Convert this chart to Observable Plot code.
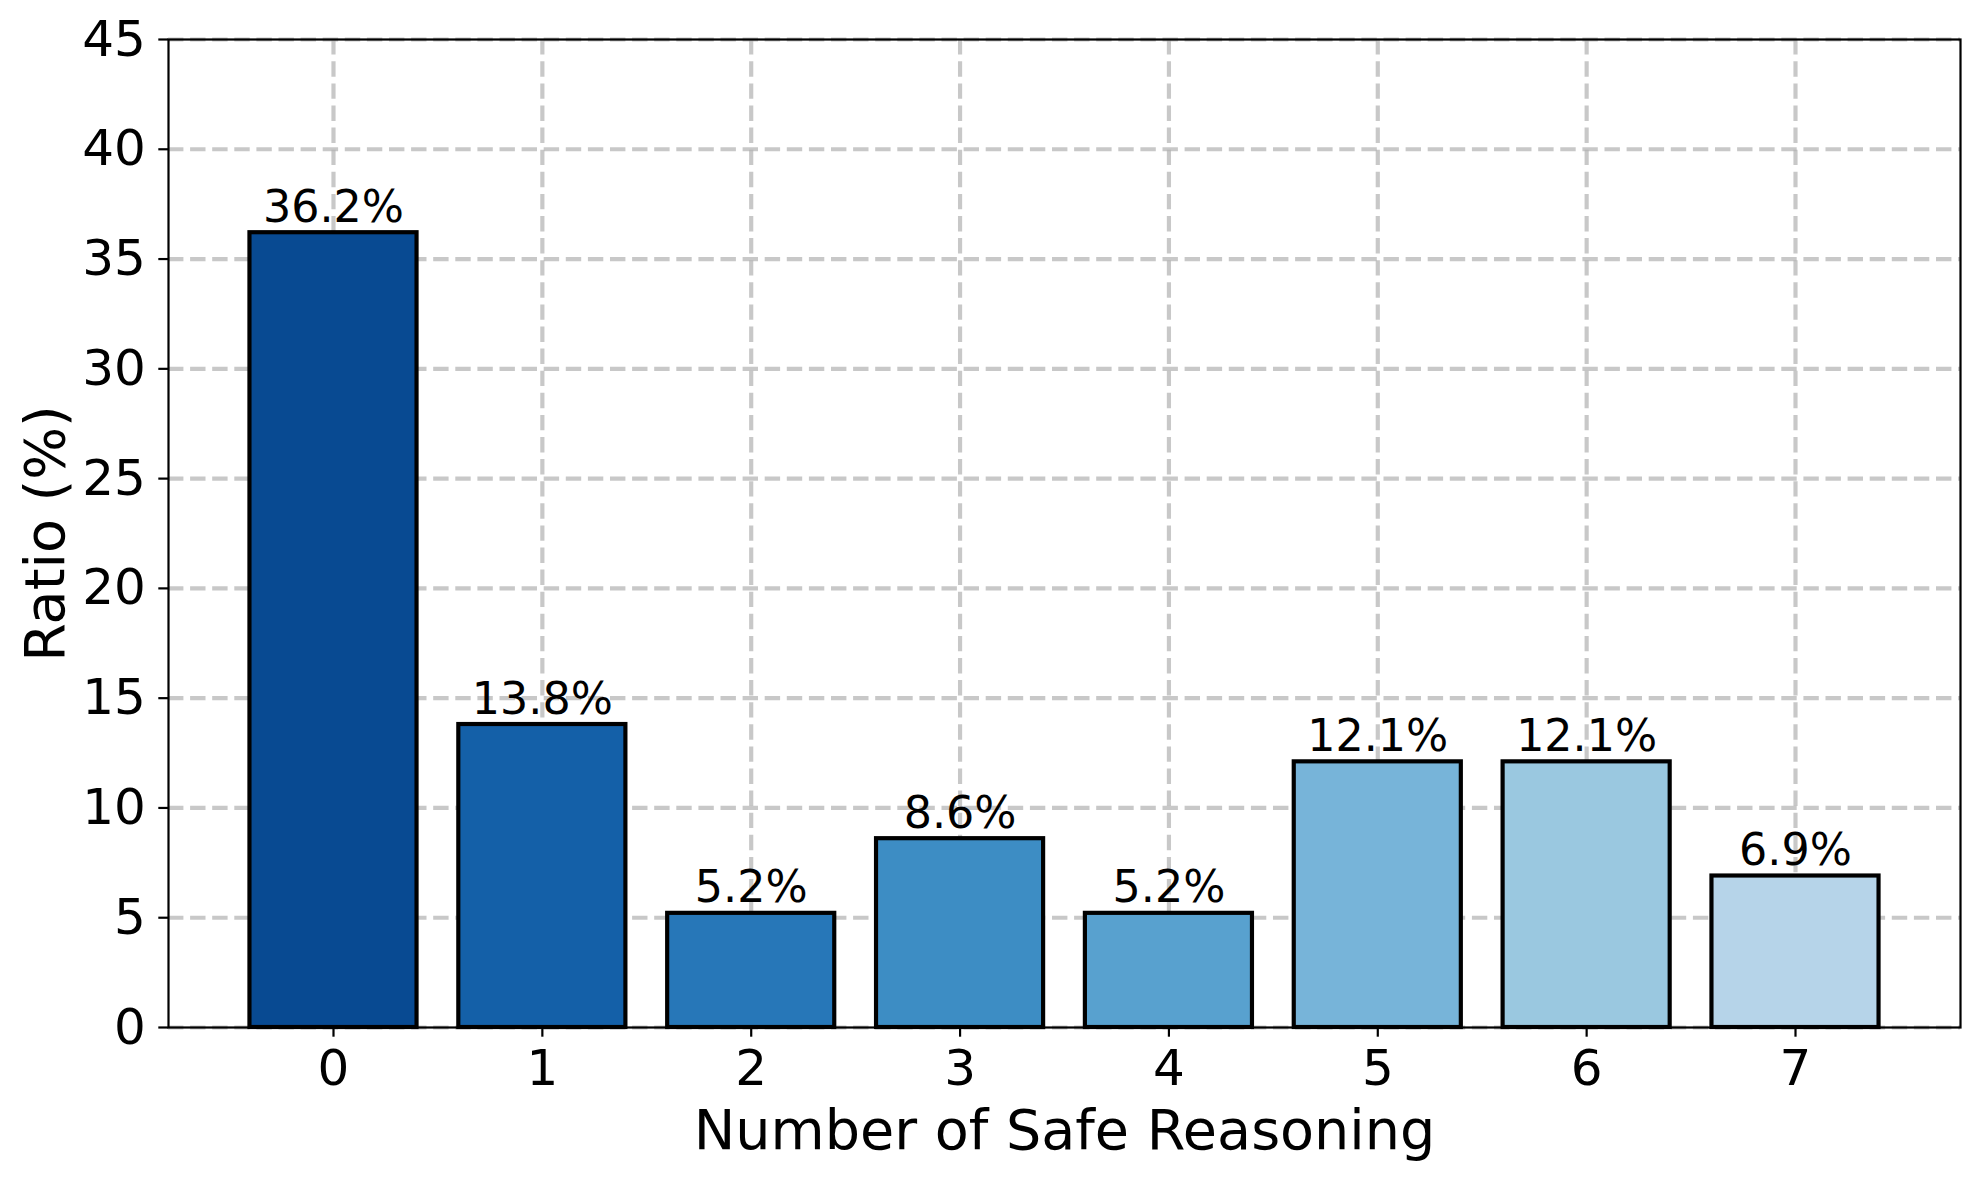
<!DOCTYPE html>
<html>
<head>
<meta charset="utf-8">
<script src="https://cdn.jsdelivr.net/npm/d3@7"></script>
<script src="https://cdn.jsdelivr.net/npm/@observablehq/plot@0.6"></script>
<style>
  html, body { margin: 0; padding: 0; background: white; }
</style>
</head>
<body>
<div id="chart"></div>
<script>
const categories = ["0", "1", "2", "3", "4", "5", "6", "7"];
const values = [36.2, 13.8, 5.2, 8.6, 5.2, 12.1, 12.1, 6.9];
const barColors = ["#084a92", "#1460a8", "#2777b8", "#3d8dc4", "#58a1cf", "#77b4d9", "#9ac8e0", "#b6d4e9"];
const yTicks = [0, 5, 10, 15, 20, 25, 30, 35, 40, 45];
const yDomain = [0, 45];
const xTitle = "Number of Safe Reasoning";
const yTitle = "Ratio (%)";

const data = categories.map((c, i) => ({k: c, v: values[i], color: barColors[i]}));

const gridStyle = {stroke: "#b0b0b0", strokeOpacity: 0.7, strokeWidth: 4.17, strokeDasharray: "15.4,6.7"};

const chart = Plot.plot({
  width: 1979,
  height: 1180,
  marginLeft: 168,
  marginRight: 19,
  marginTop: 39,
  marginBottom: 153,
  style: {fontFamily: "DejaVu Sans", background: "white", color: "black"},
  x: {type: "band", domain: categories, paddingInner: 0.2, paddingOuter: 0.39, align: 0.5, round: false},
  y: {domain: yDomain},
  color: {type: "identity"},
  marks: [
    Plot.ruleY(yTicks, {y: d => d, ...gridStyle}),
    Plot.ruleX(categories, {x: d => d, y1: yDomain[0], y2: yDomain[1], ...gridStyle}),
    Plot.barY(data, {x: "k", y: "v", fill: "color", stroke: "black", strokeWidth: 4.17}),
    Plot.text(data, {x: "k", y: "v", text: d => d.v.toFixed(1) + "%", dy: -11, lineAnchor: "bottom", fontSize: 44.4, fill: "black"}),
    Plot.frame({stroke: "black", strokeWidth: 2.2}),
    Plot.axisX({tickSize: 9.7, tickPadding: 12, fontSize: 50, strokeWidth: 2.2, label: null}),
    Plot.axisY({ticks: yTicks, tickSize: 9.7, tickPadding: 13, fontSize: 50, strokeWidth: 2.2, label: null, tickFormat: d => String(d)}),
    Plot.text([xTitle], {frameAnchor: "bottom", text: d => d, textAnchor: "middle", lineAnchor: "bottom", dy: 121, fontSize: 55.6, fill: "black"}),
    Plot.text([yTitle], {frameAnchor: "left", text: d => d, textAnchor: "middle", rotate: -90, lineAnchor: "bottom", dx: -105, fontSize: 55.6, fill: "black"})
  ]
});
document.getElementById("chart").appendChild(chart);
</script>
</body>
</html>
